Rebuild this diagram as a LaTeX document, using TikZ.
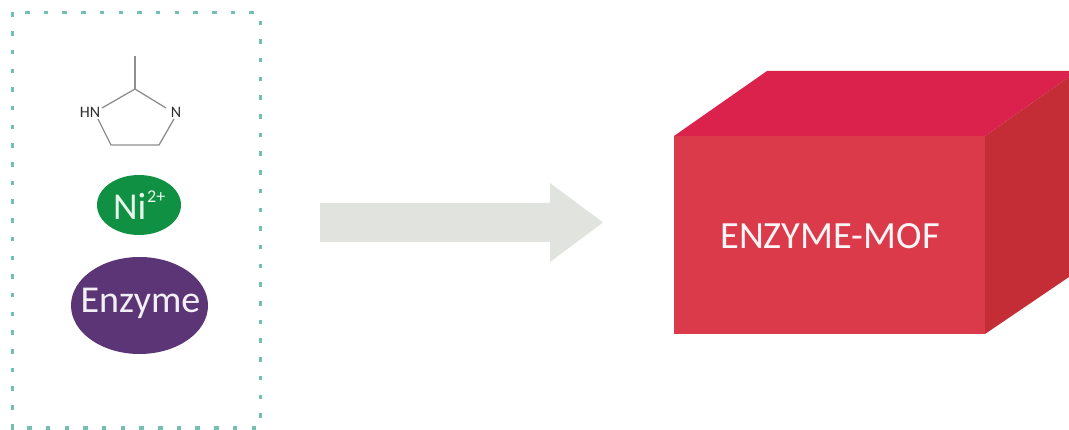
\documentclass[tikz,border=0pt]{standalone}
\usepackage{fontspec}
\setmainfont{Carlito}
\usetikzlibrary{shapes.geometric}
\definecolor{dotc}{HTML}{74BFB2}
\definecolor{bondc}{HTML}{8E8E8E}
\definecolor{atomc}{HTML}{2E2E2E}
\definecolor{nigreen}{HTML}{0F9042}
\definecolor{enzpurple}{HTML}{5C3576}
\definecolor{arrowgrey}{HTML}{E1E3DF}
\definecolor{boxfront}{HTML}{DB3A4A}
\definecolor{boxtop}{HTML}{DA224C}
\definecolor{boxside}{HTML}{C42C36}
\tikzset{
  x=1pt,y=-1pt,
  frameline/.style={draw=dotc,line width=3pt,dash pattern=on 4.5pt off 14.2pt},
  bond/.style={draw=bondc,line width=1.3pt},
  atom/.style={text=atomc,font=\fontsize{16}{16}\selectfont,inner sep=0pt},
  blob/.style={ellipse,inner sep=0pt,minimum width=#1},
  boxlabel/.style={text=white!95!boxfront,font=\fontsize{38.5}{38.5}\selectfont,inner sep=0pt},
}
\begin{document}
\begin{tikzpicture}
\useasboundingbox (0,0) rectangle (1069,430);
% dotted frame
\draw[frameline] (12.5,12.5) rectangle (260,428);
% molecule
\node[atom] (hn) at (90,112) {HN};
\node[atom] (nr) at (176,112) {N};
\coordinate (me) at (135,56);
\coordinate (c2) at (135,89);
\coordinate (c4) at (111,145);
\coordinate (c5) at (159,145);
\draw[bond] (me) -- (c2);
\draw[bond] (c2) -- (102,108);
\draw[bond] (c2) -- (166,108);
\draw[bond] (98,119) -- (c4) -- (c5) -- (174,119);
% ions
\node[blob=84pt,fill=nigreen,minimum height=60pt] (ni) at (139,205) {};
\node[inner sep=0pt,text=white!90!nigreen,font=\fontsize{38}{38}\selectfont,anchor=base west] (nitext) at (113,220) {Ni};
\node[inner sep=0pt,text=white!90!nigreen,font=\fontsize{18}{18}\selectfont,anchor=base west] (nisup) at (147,203) {2+};
\node[blob=137pt,fill=enzpurple,minimum height=97pt] (enz) at (139.5,305.5) {};
\node[inner sep=0pt,font=\fontsize{38}{38}\selectfont,text=white!92!enzpurple] (enztext) at (140.5,303) {Enzyme};
% arrow
\fill[arrowgrey] (320,203) -- (550,203) -- (550,183) -- (603,222.5) -- (550,262) -- (550,242) -- (320,242) -- cycle;
% box
\fill[boxtop] (674,136) -- (767,71) -- (1069,71) -- (1069,77) -- (985,136) -- cycle;
\fill[boxside] (985,136) -- (1069,77) -- (1069,277) -- (985,334) -- cycle;
\fill[boxfront] (674,136) rectangle (985,334);
\node[boxlabel] (mof) at (830,236) {ENZYME-MOF};
\end{tikzpicture}
\end{document}
